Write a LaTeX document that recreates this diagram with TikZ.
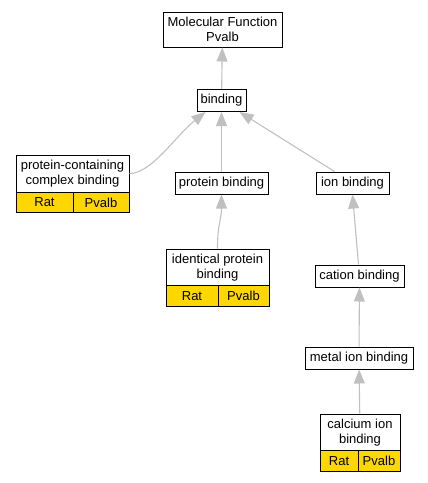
\documentclass[tikz,border=0pt]{standalone}
\usepackage{fontspec}
\setmainfont{Liberation Sans}
\usepackage{xcolor}
\usetikzlibrary{arrows.meta}
\usetikzlibrary{calc}
\usetikzlibrary{positioning}
\definecolor{genegold}{HTML}{FFD700}
\definecolor{edgegray}{HTML}{C0C0C0}

\begin{document}
\begin{tikzpicture}[x=1pt,y=-1pt,font=\fontsize{13}{14.5}\selectfont]
  \tikzstyle{term}=[draw, fill=white, inner sep=0pt, align=center, line width=1pt, minimum height=22pt]
  \tikzstyle{gene}=[draw, fill=genegold, inner sep=0pt, line width=1pt, minimum height=20.5pt]
  \tikzstyle{isa}=[draw=edgegray, line width=1.1pt, -{Triangle[length=14pt,width=11pt]}]
  \useasboundingbox (0,0) rectangle (428,483);

  % terms
  \node[term, minimum width=119pt, minimum height=35pt] (mf) at (222.5,29.5) {Molecular Function\\Pvalb};
  \node[term, minimum width=49pt] (bind) at (221.5,100.5) {binding};
  \node[term, minimum width=113pt, minimum height=37pt] (pcb) at (72.5,173.5) {protein-containing\\complex binding};
  \node[gene, minimum width=57pt] (pcbrat) at (44.5,202.5) {Rat};
  \node[gene, minimum width=56pt] (pcbgene) at (101,202.5) {Pvalb};
  \node[term, minimum width=93pt] (prot) at (221.5,183) {protein binding};
  \node[term, minimum width=73pt] (ion) at (352.5,183) {ion binding};
  \node[term, minimum width=103pt, minimum height=37pt] (iden) at (217.5,267.5) {identical protein\\binding};
  \node[gene, minimum width=52pt] (idenrat) at (192,296) {Rat};
  \node[gene, minimum width=51pt] (idengene) at (243.5,296) {Pvalb};
  \node[term, minimum width=89pt] (cat) at (359.5,276) {cation binding};
  \node[term, minimum width=108pt] (metal) at (359,358) {metal ion binding};
  \node[term, minimum width=80pt, minimum height=37pt] (calc) at (360,432.5) {calcium ion\\binding};
  \node[gene, minimum width=38pt] (calcrat) at (339,461) {Rat};
  \node[gene, minimum width=42pt] (calcgene) at (379,461) {Pvalb};

  % is_a edges
  \draw[isa] (bind) -- (mf);
  \draw[isa] (prot) -- (bind);
  \draw[isa] ([xshift=-18pt]ion.north) -- ([xshift=18pt]bind.south);
  \draw[isa] (pcb.east) .. controls +(22,0) and +(-30,24) .. ([xshift=-16pt]bind.south);
  \draw[isa] (iden.north) .. controls +(0,-25) and +(0,25) .. (prot.south);
  \draw[isa] ([xshift=-1pt]cat.north) -- (ion.south);
  \draw[isa] (metal) -- (cat);
  \draw[isa] (calc) -- (metal);
\end{tikzpicture}
\end{document}
